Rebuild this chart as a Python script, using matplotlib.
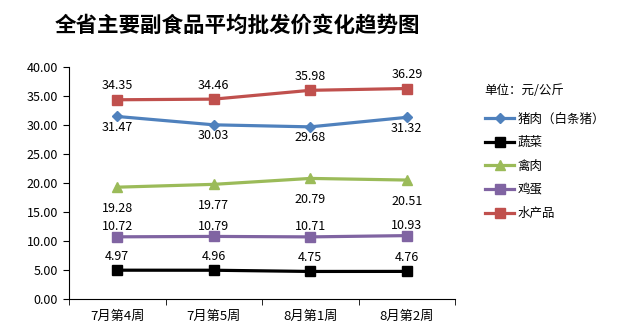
import matplotlib
matplotlib.use('Agg')
import matplotlib.pyplot as plt

plt.rcParams['font.family'] = ['Noto Sans CJK SC', 'DejaVu Sans']

weeks = ['7月第4周', '7月第5周', '8月第1周', '8月第2周']
series_names = ['猪肉（白条猪）', '蔬菜', '禽肉', '鸡蛋', '水产品']
pork = [31.47, 30.03, 29.68, 31.32]
vegetables = [4.97, 4.96, 4.75, 4.76]
poultry = [19.28, 19.77, 20.79, 20.51]
eggs = [10.72, 10.79, 10.71, 10.93]
aquatic = [34.35, 34.46, 35.98, 36.29]

colors = ['#4F81BD', '#000000', '#9BBB59', '#8064A2', '#C0504D']
markers = ['D', 's', '^', 's', 's']
msizes = [5.5, 6.5, 7, 6.5, 6.5]
# label offset in pixels (negative = below the point)
label_dy = [-11, 14, -21, 10, 14]

fig = plt.figure(figsize=(6.32, 3.36), dpi=100)
ax = fig.add_axes([0.1092, 0.1101, 0.6108, 0.6905])

x = range(len(weeks))
all_series = [pork, vegetables, poultry, eggs, aquatic]
for vals, name, c, m, ms, dy in zip(all_series, series_names, colors, markers, msizes, label_dy):
    ax.plot(x, vals, color=c, lw=2.3, marker=m, markersize=ms, label=name)
    for xi, v in zip(x, vals):
        ax.annotate(f'{v:.2f}', (xi, v), xytext=(0, dy), textcoords='offset pixels',
                    ha='center', va='center', fontsize=9, color='#000000')

ax.set_xlim(-0.5, 3.5)
ax.set_ylim(0, 40)
ax.set_yticks(range(0, 41, 5))
ax.set_yticklabels([f'{v:.2f}' for v in range(0, 41, 5)], fontsize=9)
ax.set_xticks(list(x))
ax.set_xticklabels(weeks, fontsize=9.5)
ax.tick_params(axis='x', length=0, pad=8)
ax.set_xticks([-0.5, 0.5, 1.5, 2.5, 3.5], minor=True)
ax.tick_params(axis='x', which='minor', length=4, direction='out')
ax.tick_params(axis='y', length=4, direction='out', pad=4)
ax.spines['top'].set_visible(False)
ax.spines['right'].set_visible(False)

fig.text(0.087, 0.925, '全省主要副食品平均批发价变化趋势图', fontsize=15.5, fontweight='bold',
         ha='left', va='center', color='#000000')
fig.text(0.767, 0.732, '单位：元/公斤', fontsize=9, ha='left', va='center')

fig.legend(loc='upper left', bbox_to_anchor=(0.76, 0.68), frameon=False, fontsize=9,
           handlelength=2.3, handletextpad=0.3, labelspacing=0.85, borderaxespad=0)

fig.savefig('out.png', dpi=100)
